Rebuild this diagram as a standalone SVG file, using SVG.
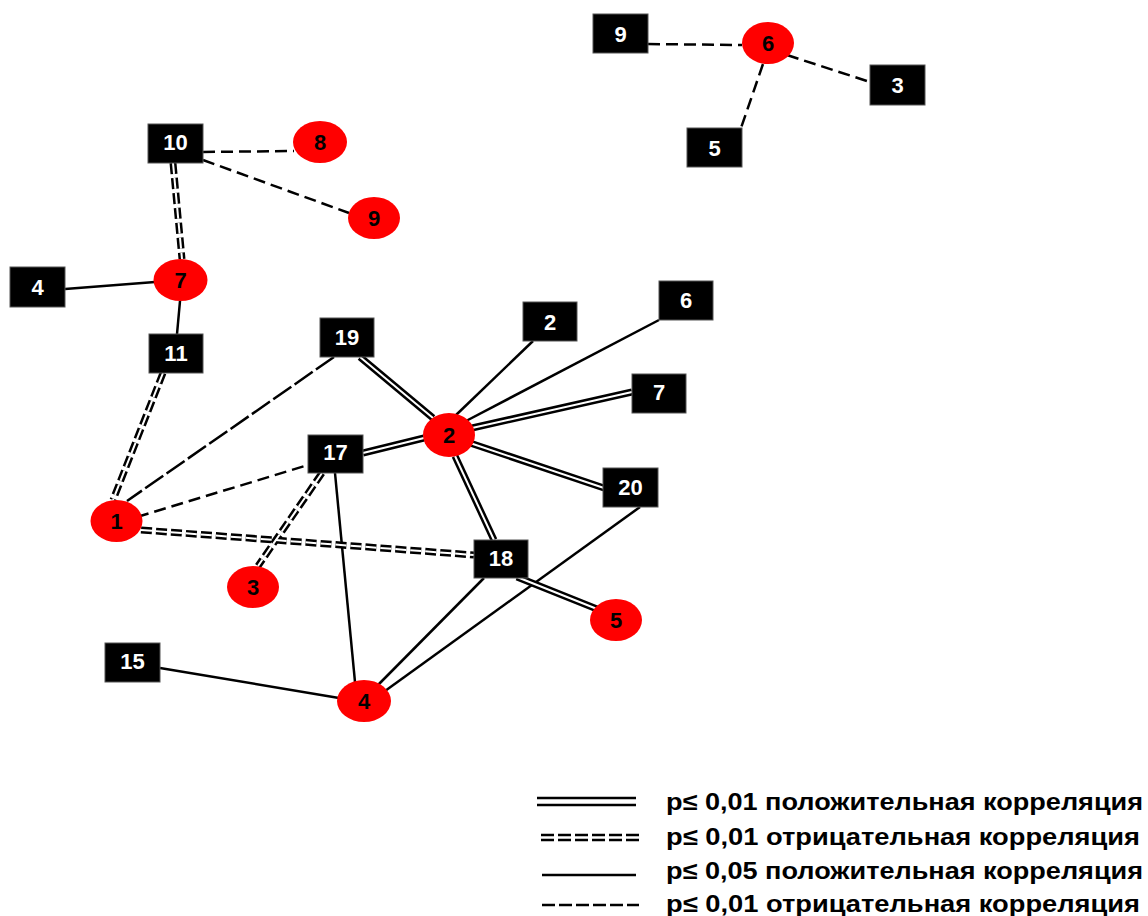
<svg xmlns="http://www.w3.org/2000/svg" width="1148" height="916" viewBox="0 0 1148 916">
<defs>
<style>
.bx{fill:#000;stroke:#555;stroke-width:1}
.el{fill:#ff0000}
.bt{fill:#fff;font-family:"Liberation Sans",Arial,sans-serif;font-weight:bold;font-size:22px;text-anchor:middle}
.et{fill:#000;font-family:"Liberation Sans",Arial,sans-serif;font-weight:bold;font-size:22px;text-anchor:middle}
.s{stroke:#000;stroke-width:2.5;fill:none}
.d{stroke:#000;stroke-width:2.5;fill:none;stroke-dasharray:12 6}
.dl{stroke:#000;stroke-width:2.5;fill:none;stroke-dasharray:22 4}
.ps{stroke:#000;stroke-width:7;fill:none}
.pw{stroke:#fff;stroke-width:2;fill:none}
.ns{stroke:#000;stroke-width:7;fill:none;stroke-dasharray:11 4}
.nw{stroke:#fff;stroke-width:2;fill:none;stroke-dasharray:11 4}
.lt{fill:#000;font-family:"Liberation Sans",Arial,sans-serif;font-weight:bold;font-size:24px}
</style>
</defs>
<rect width="1148" height="916" fill="#fff"/>
<g id="connectors">
<line class="s" x1="65" y1="289" x2="155" y2="282"/>
<line class="s" x1="180" y1="301" x2="177" y2="334"/>
<line class="s" x1="533" y1="341" x2="455" y2="416"/>
<line class="s" x1="659" y1="320" x2="466" y2="421"/>
<line class="s" x1="335" y1="473" x2="355" y2="682"/>
<line class="s" x1="484" y1="578" x2="378" y2="685"/>
<line class="s" x1="640" y1="507" x2="385" y2="691"/>
<line class="s" x1="160" y1="668" x2="339" y2="698"/>
<line class="d" x1="648" y1="44" x2="742" y2="45"/>
<line class="d" x1="787" y1="55" x2="870" y2="82"/>
<line class="d" x1="763" y1="64" x2="741" y2="128"/>
<line class="d" x1="203" y1="152" x2="294" y2="151"/>
<line class="d" x1="203" y1="160" x2="349" y2="213"/>
<line class="d" x1="137" y1="517" x2="308" y2="465"/>
<line class="dl" x1="334" y1="357" x2="127" y2="501"/>
<g>
<line class="ps" x1="360" y1="357" x2="433" y2="418"/>
<line class="ps" x1="363" y1="453" x2="424" y2="438"/>
<line class="ps" x1="472" y1="428" x2="632" y2="392"/>
<line class="ps" x1="470" y1="443" x2="604" y2="488"/>
<line class="ps" x1="455" y1="456" x2="494" y2="540"/>
<line class="ps" x1="517" y1="577" x2="597" y2="609"/>
<line class="pw" x1="360" y1="357" x2="433" y2="418"/>
<line class="pw" x1="363" y1="453" x2="424" y2="438"/>
<line class="pw" x1="472" y1="428" x2="632" y2="392"/>
<line class="pw" x1="470" y1="443" x2="604" y2="488"/>
<line class="pw" x1="455" y1="456" x2="494" y2="540"/>
<line class="pw" x1="517" y1="577" x2="597" y2="609"/>
</g>
<g>
<line class="ns" x1="173" y1="163" x2="182" y2="259"/>
<line class="ns" x1="163" y1="373" x2="113" y2="500"/>
<line class="ns" x1="141" y1="530" x2="474" y2="555"/>
<line class="ns" x1="322" y1="473" x2="258" y2="566"/>
<line class="nw" x1="173" y1="163" x2="182" y2="259"/>
<line class="nw" x1="163" y1="373" x2="113" y2="500"/>
<line class="nw" x1="141" y1="530" x2="474" y2="555"/>
<line class="nw" x1="322" y1="473" x2="258" y2="566"/>
</g>
</g>
<g id="box9top"><rect class="bx" x="593" y="14" width="55" height="39"/><text class="bt" x="620.5" y="41.5">9</text></g>
<g id="ell6"><ellipse class="el" cx="768" cy="43" rx="26" ry="21"/><text class="et" x="768" y="51">6</text></g>
<g id="box3"><rect class="bx" x="870" y="65" width="55" height="40"/><text class="bt" x="897.5" y="93">3</text></g>
<g id="box5"><rect class="bx" x="687" y="128" width="55" height="39"/><text class="bt" x="714.5" y="156">5</text></g>
<g id="box10"><rect class="bx" x="148" y="124" width="55" height="39"/><text class="bt" x="175.5" y="150">10</text></g>
<g id="ell8"><ellipse class="el" cx="320" cy="142" rx="27" ry="21"/><text class="et" x="320" y="150">8</text></g>
<g id="ell9"><ellipse class="el" cx="374" cy="218" rx="26" ry="21"/><text class="et" x="374" y="226">9</text></g>
<g id="ell7"><ellipse class="el" cx="180.5" cy="280" rx="27" ry="21"/><text class="et" x="180.5" y="288">7</text></g>
<g id="box4"><rect class="bx" x="10" y="267" width="55" height="40"/><text class="bt" x="37.5" y="295">4</text></g>
<g id="box11"><rect class="bx" x="149" y="334" width="54" height="39"/><text class="bt" x="176" y="361">11</text></g>
<g id="box19"><rect class="bx" x="320" y="318" width="54" height="39"/><text class="bt" x="347" y="345">19</text></g>
<g id="box2"><rect class="bx" x="523" y="302" width="54" height="39"/><text class="bt" x="550" y="330">2</text></g>
<g id="box6"><rect class="bx" x="659" y="281" width="54" height="39"/><text class="bt" x="686" y="308">6</text></g>
<g id="box7"><rect class="bx" x="632" y="374" width="54" height="39"/><text class="bt" x="659" y="400">7</text></g>
<g id="ell2"><ellipse class="el" cx="449" cy="435" rx="26" ry="22"/><text class="et" x="449" y="443">2</text></g>
<g id="box17"><rect class="bx" x="308" y="435" width="55" height="38"/><text class="bt" x="335.5" y="460">17</text></g>
<g id="box20"><rect class="bx" x="603" y="468" width="55" height="39"/><text class="bt" x="630.5" y="495">20</text></g>
<g id="ell1"><ellipse class="el" cx="116.5" cy="521" rx="26" ry="21"/><text class="et" x="116.5" y="529">1</text></g>
<g id="ell3"><ellipse class="el" cx="253" cy="587" rx="26" ry="21"/><text class="et" x="253" y="595">3</text></g>
<g id="box18"><rect class="bx" x="474" y="540" width="54" height="38"/><text class="bt" x="501" y="566">18</text></g>
<g id="ell5"><ellipse class="el" cx="616" cy="620" rx="26" ry="21"/><text class="et" x="616" y="628">5</text></g>
<g id="box15"><rect class="bx" x="105" y="643" width="55" height="39"/><text class="bt" x="132.5" y="669">15</text></g>
<g id="ell4"><ellipse class="el" cx="364" cy="701" rx="27" ry="21"/><text class="et" x="364" y="709">4</text></g>
<g id="legend">
<line stroke="#000" stroke-width="2.5" x1="537" y1="798" x2="636" y2="798"/>
<line stroke="#000" stroke-width="2.5" x1="537" y1="805" x2="636" y2="805"/>
<line stroke="#000" stroke-width="2.5" stroke-dasharray="13 4" x1="541" y1="835" x2="639" y2="835"/>
<line stroke="#000" stroke-width="2.5" stroke-dasharray="13 4" x1="541" y1="840" x2="639" y2="840"/>
<line stroke="#000" stroke-width="2.5" x1="542" y1="875" x2="636" y2="875"/>
<line stroke="#000" stroke-width="2.5" stroke-dasharray="13 4" x1="542" y1="905" x2="639" y2="905"/>
<text class="lt" x="666" y="810" textLength="477" lengthAdjust="spacingAndGlyphs">p≤ 0,01 положительная корреляция</text>
<text class="lt" x="666" y="845" textLength="474" lengthAdjust="spacingAndGlyphs">p≤ 0,01 отрицательная корреляция</text>
<text class="lt" x="666" y="879" textLength="477" lengthAdjust="spacingAndGlyphs">p≤ 0,05 положительная корреляция</text>
<text class="lt" x="666" y="912" textLength="474" lengthAdjust="spacingAndGlyphs">p≤ 0,01 отрицательная корреляция</text>
</g>
</svg>
